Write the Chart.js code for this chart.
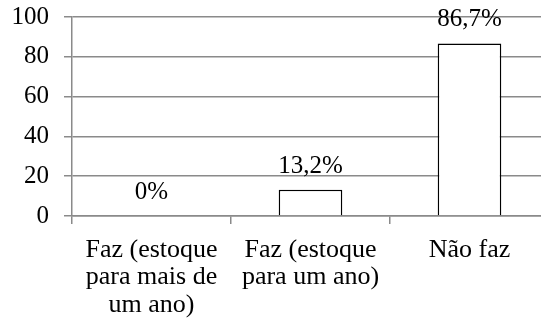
<!DOCTYPE html>
<html>
<head>
<meta charset="utf-8">
<script src="https://cdn.jsdelivr.net/npm/chart.js@4/dist/chart.umd.min.js"></script>
<style>
html,body{margin:0;padding:0;overflow:hidden;background:#fff;width:541px;height:323px;}
#wrap{position:absolute;left:0;top:0;width:549px;height:323px;}
</style>
</head>
<body>
<div id="wrap"><canvas id="c" width="549" height="323"></canvas></div>
<script>
const categories = [
  ["Faz (estoque", "para mais de", "um ano)"],
  ["Faz (estoque", "para um ano)"],
  "Não faz"
];
const values = [0, 13.2, 86.7];
const valueLabels = ["0%", "13,2%", "86,7%"];
const yTicks = [0, 20, 40, 60, 80, 100];

const FONT = "'Liberation Serif', 'Times New Roman', serif";
const GRID = '#8a8a8a';

const labelPlugin = {
  id: 'valueLabels',
  afterDatasetsDraw(chart) {
    const ctx = chart.ctx;
    const meta = chart.getDatasetMeta(0);
    ctx.save();
    ctx.fillStyle = '#000';
    ctx.font = '25px ' + FONT;
    ctx.textAlign = 'center';
    ctx.textBaseline = 'alphabetic';
    meta.data.forEach((bar, i) => {
      ctx.fillText(valueLabels[i], bar.x, bar.y - 17);
    });
    ctx.restore();
  }
};

new Chart(document.getElementById('c'), {
  type: 'bar',
  data: {
    labels: categories,
    datasets: [{
      data: values,
      backgroundColor: '#ffffff',
      borderColor: '#000000',
      borderWidth: 1.5,
      barPercentage: 0.4,
      categoryPercentage: 1.0
    }]
  },
  options: {
    responsive: false,
    animation: false,
    devicePixelRatio: 1,
    layout: { padding: { top: 17, left: 0, right: 0, bottom: 0 } },
    plugins: { legend: { display: false }, tooltip: { enabled: false } },
    scales: {
      x: {
        offset: true,
        grid: { display: true, drawOnChartArea: false, drawTicks: true, tickLength: 8, color: GRID, lineWidth: 1.5, offset: true },
        border: { display: true, color: GRID, width: 1.5 },
        ticks: { color: '#000', font: { family: FONT, size: 26, lineHeight: 1.06 }, padding: 12, maxRotation: 0, autoSkip: false },
        afterFit(scale) { scale.height = 107; scale.paddingLeft = 0; scale.paddingRight = 0; }
      },
      y: {
        min: 0, max: 100,
        afterBuildTicks(scale) { scale.ticks = yTicks.map(v => ({ value: v })); },
        grid: { color: GRID, lineWidth: 1.5, tickLength: 8 },
        border: { display: true, color: GRID, width: 1.5 },
        ticks: { color: '#000', font: { family: FONT, size: 25 }, padding: 15 },
        afterFit(scale) { scale.width = 72; scale.paddingTop = 0; scale.paddingBottom = 0; }
      }
    }
  },
  plugins: [labelPlugin]
});
</script>
</body>
</html>
